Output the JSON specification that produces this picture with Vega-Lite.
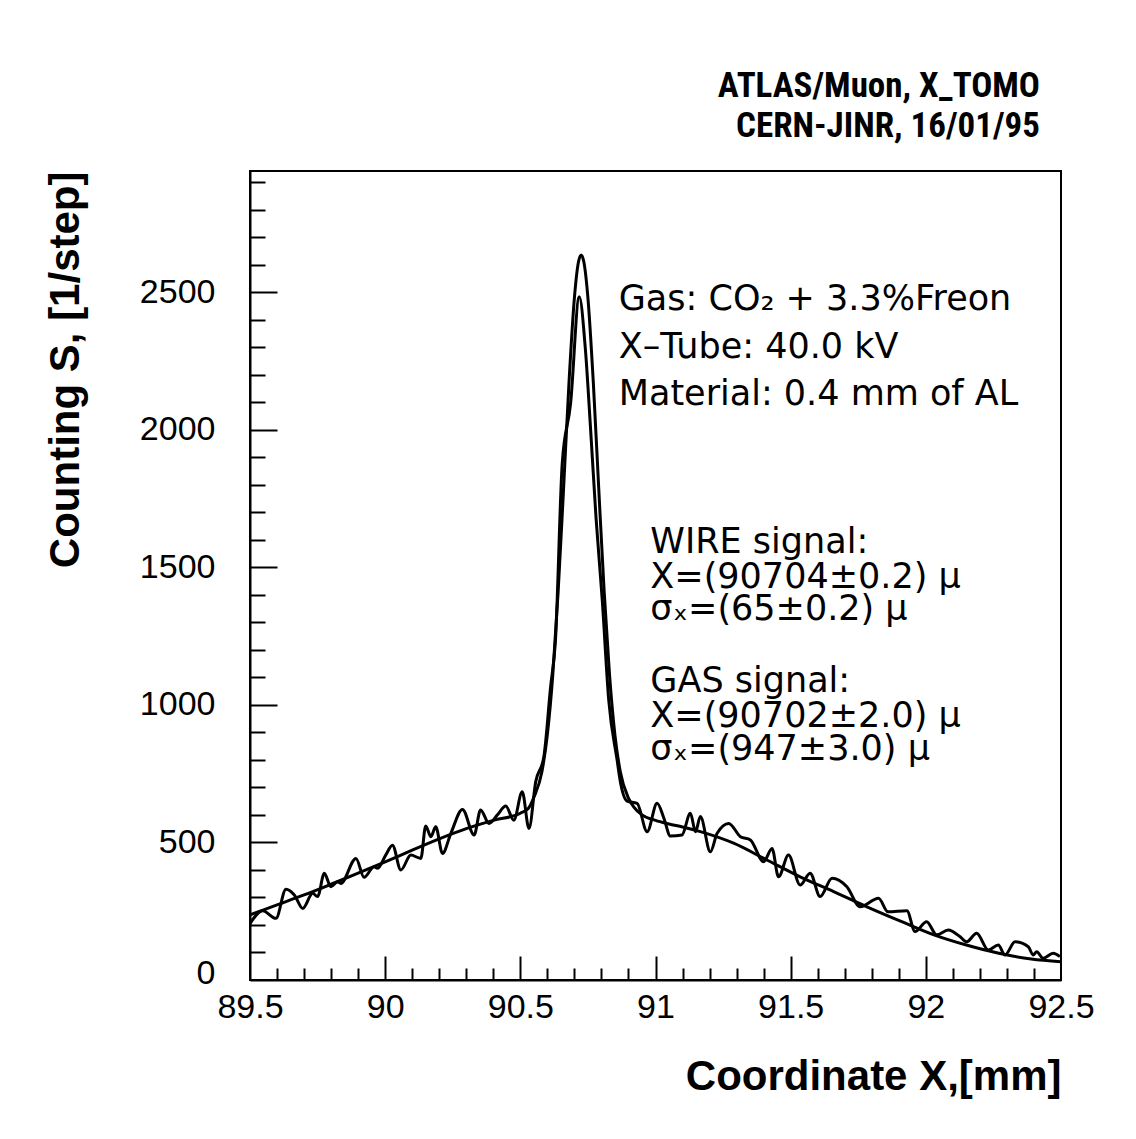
{
  "$schema": "https://vega.github.io/schema/vega-lite/v6.json",
  "width": 811,
  "height": 809,
  "autosize": {"type": "none"},
  "padding": {"left": 250, "top": 171, "right": 75, "bottom": 159},
  "background": "white",
  "title": {
    "text": ["ATLAS/Muon, X_TOMO", "CERN-JINR, 16/01/95"],
    "anchor": "end",
    "frame": "group",
    "font": "Roboto Condensed, Liberation Sans Narrow, Liberation Sans",
    "fontWeight": "bold",
    "fontSize": 35,
    "lineHeight": 40,
    "color": "black",
    "offset": 27,
    "dx": -21
  },
  "config": {
    "view": {"stroke": "black", "strokeWidth": 2},
    "axis": {
      "domainColor": "black",
      "domainWidth": 2,
      "tickColor": "black",
      "tickWidth": 2,
      "grid": false,
      "labelFont": "Liberation Sans",
      "labelFontSize": 34,
      "labelColor": "black",
      "labelOverlap": false,
      "titleFont": "Liberation Sans",
      "titleFontWeight": "bold",
      "titleFontSize": 42,
      "titleColor": "black"
    }
  },
  "resolve": {"axis": {"x": "independent", "y": "independent"}},
  "datasets": {
    "measured": [
      {"x": 89.5, "y": 205}, {"x": 89.547, "y": 252}, {"x": 89.596, "y": 224}, {"x": 89.633, "y": 330},
      {"x": 89.664, "y": 309}, {"x": 89.695, "y": 260}, {"x": 89.732, "y": 315}, {"x": 89.75, "y": 303},
      {"x": 89.775, "y": 388}, {"x": 89.799, "y": 339}, {"x": 89.824, "y": 357}, {"x": 89.836, "y": 351},
      {"x": 89.892, "y": 442}, {"x": 89.922, "y": 373}, {"x": 89.959, "y": 412}, {"x": 89.972, "y": 406},
      {"x": 90.002, "y": 454}, {"x": 90.027, "y": 490}, {"x": 90.058, "y": 400}, {"x": 90.095, "y": 454},
      {"x": 90.132, "y": 442}, {"x": 90.15, "y": 560}, {"x": 90.169, "y": 521}, {"x": 90.187, "y": 557},
      {"x": 90.212, "y": 460}, {"x": 90.243, "y": 533}, {"x": 90.286, "y": 620}, {"x": 90.329, "y": 527},
      {"x": 90.353, "y": 618}, {"x": 90.384, "y": 569}, {"x": 90.415, "y": 600}, {"x": 90.446, "y": 632},
      {"x": 90.476, "y": 581}, {"x": 90.507, "y": 684}, {"x": 90.532, "y": 551}, {"x": 90.557, "y": 721},
      {"x": 90.587, "y": 811}, {"x": 90.612, "y": 1066}, {"x": 90.63, "y": 1235}, {"x": 90.655, "y": 1878},
      {"x": 90.686, "y": 2096}, {"x": 90.718, "y": 2483}, {"x": 90.74, "y": 2300}, {"x": 90.76, "y": 2000},
      {"x": 90.78, "y": 1680}, {"x": 90.803, "y": 1381}, {"x": 90.827, "y": 1017}, {"x": 90.858, "y": 799},
      {"x": 90.871, "y": 715}, {"x": 90.895, "y": 650}, {"x": 90.932, "y": 642}, {"x": 90.969, "y": 539},
      {"x": 91.006, "y": 642}, {"x": 91.031, "y": 588}, {"x": 91.055, "y": 523}, {"x": 91.098, "y": 527},
      {"x": 91.129, "y": 606}, {"x": 91.148, "y": 539}, {"x": 91.166, "y": 594}, {"x": 91.203, "y": 466},
      {"x": 91.228, "y": 533}, {"x": 91.271, "y": 569}, {"x": 91.314, "y": 521}, {"x": 91.351, "y": 509},
      {"x": 91.4, "y": 430}, {"x": 91.431, "y": 478}, {"x": 91.455, "y": 375}, {"x": 91.492, "y": 454},
      {"x": 91.535, "y": 345}, {"x": 91.572, "y": 388}, {"x": 91.609, "y": 303}, {"x": 91.653, "y": 370},
      {"x": 91.708, "y": 339}, {"x": 91.757, "y": 266}, {"x": 91.825, "y": 297}, {"x": 91.86, "y": 248},
      {"x": 91.93, "y": 252}, {"x": 91.96, "y": 176}, {"x": 92.003, "y": 212}, {"x": 92.04, "y": 164},
      {"x": 92.083, "y": 182}, {"x": 92.127, "y": 157}, {"x": 92.151, "y": 139}, {"x": 92.188, "y": 170},
      {"x": 92.231, "y": 109}, {"x": 92.268, "y": 127}, {"x": 92.293, "y": 91}, {"x": 92.33, "y": 139},
      {"x": 92.379, "y": 121}, {"x": 92.397, "y": 91}, {"x": 92.41, "y": 103}, {"x": 92.434, "y": 79},
      {"x": 92.471, "y": 97}, {"x": 92.496, "y": 85}
    ],
    "fit": [
      {"x": 89.5, "y": 237}, {"x": 89.6, "y": 273}, {"x": 89.7, "y": 309}, {"x": 89.8, "y": 348},
      {"x": 89.9, "y": 388}, {"x": 90.0, "y": 429}, {"x": 90.1, "y": 472}, {"x": 90.2, "y": 513},
      {"x": 90.3, "y": 550}, {"x": 90.4, "y": 580}, {"x": 90.5, "y": 606}, {"x": 90.53, "y": 624},
      {"x": 90.55, "y": 664}, {"x": 90.58, "y": 758}, {"x": 90.6, "y": 892}, {"x": 90.62, "y": 1108},
      {"x": 90.64, "y": 1413}, {"x": 90.66, "y": 1787}, {"x": 90.68, "y": 2171}, {"x": 90.7, "y": 2479},
      {"x": 90.715, "y": 2609}, {"x": 90.725, "y": 2635}, {"x": 90.735, "y": 2609}, {"x": 90.75, "y": 2479},
      {"x": 90.77, "y": 2171}, {"x": 90.79, "y": 1787}, {"x": 90.81, "y": 1413}, {"x": 90.83, "y": 1108},
      {"x": 90.85, "y": 890}, {"x": 90.87, "y": 756}, {"x": 90.9, "y": 661}, {"x": 90.92, "y": 628},
      {"x": 90.95, "y": 600}, {"x": 91.0, "y": 580}, {"x": 91.05, "y": 567}, {"x": 91.1, "y": 556},
      {"x": 91.166, "y": 539}, {"x": 91.289, "y": 497}, {"x": 91.412, "y": 436}, {"x": 91.535, "y": 375},
      {"x": 91.659, "y": 321}, {"x": 91.782, "y": 266}, {"x": 91.911, "y": 212}, {"x": 92.03, "y": 164},
      {"x": 92.15, "y": 127}, {"x": 92.27, "y": 97}, {"x": 92.39, "y": 76}, {"x": 92.5, "y": 66}
    ],
    "notes": [
      {"x": 90.864, "y": 2435, "text": "Gas: CO₂ + 3.3%Freon"},
      {"x": 90.864, "y": 2260, "text": "X–Tube: 40.0 kV"},
      {"x": 90.864, "y": 2089, "text": "Material: 0.4 mm of AL"},
      {"x": 90.981, "y": 1552, "text": "WIRE signal:"},
      {"x": 90.981, "y": 1424, "text": "X=(90704±0.2) μ"},
      {"x": 90.981, "y": 1308, "text": "σₓ=(65±0.2) μ"},
      {"x": 90.981, "y": 1047, "text": "GAS signal:"},
      {"x": 90.981, "y": 919, "text": "X=(90702±2.0) μ"},
      {"x": 90.981, "y": 799, "text": "σₓ=(947±3.0) μ"}
    ]
  },
  "layer": [
    {
      "data": {"name": "measured"},
      "mark": {"type": "line", "interpolate": "monotone", "color": "black", "strokeWidth": 3, "clip": true},
      "encoding": {
        "x": {
          "field": "x", "type": "quantitative",
          "scale": {"domain": [89.5, 92.5], "nice": false, "zero": false},
          "axis": {
            "orient": "bottom",
            "values": [89.5, 90, 90.5, 91, 91.5, 92, 92.5],
            "ticks": false,
            "labelExpr": "format(datum.value, '.1~f')",
            "labelPadding": 10,
            "labelFlush": false,
            "title": "Coordinate X,[mm]",
            "titleAnchor": "end",
            "titlePadding": 32
          }
        },
        "y": {
          "field": "y", "type": "quantitative",
          "scale": {"domain": [0, 2940], "nice": false, "zero": true},
          "axis": {
            "orient": "left",
            "values": [0, 500, 1000, 1500, 2000, 2500],
            "ticks": false,
            "labelExpr": "format(datum.value, 'd')",
            "labelPadding": 35,
            "labelFlush": true,
            "labelFlushOffset": 10,
            "title": "Counting S, [1/step]",
            "titleAnchor": "end",
            "titlePadding": 52
          }
        }
      }
    },
    {
      "data": {"name": "fit"},
      "mark": {"type": "line", "interpolate": "monotone", "color": "black", "strokeWidth": 3, "clip": true},
      "encoding": {
        "x": {
          "field": "x", "type": "quantitative",
          "axis": {
            "orient": "bottom",
            "values": [89.6, 89.7, 89.8, 89.9, 90.1, 90.2, 90.3, 90.4, 90.6, 90.7, 90.8, 90.9, 91.1, 91.2, 91.3, 91.4, 91.6, 91.7, 91.8, 91.9, 92.1, 92.2, 92.3, 92.4],
            "tickSize": -12,
            "labels": false,
            "domain": false,
            "title": null
          }
        },
        "y": {
          "field": "y", "type": "quantitative",
          "axis": {
            "orient": "left",
            "values": [100, 200, 300, 400, 600, 700, 800, 900, 1100, 1200, 1300, 1400, 1600, 1700, 1800, 1900, 2100, 2200, 2300, 2400, 2600, 2700, 2800, 2900],
            "tickSize": -15,
            "labels": false,
            "domain": false,
            "title": null
          }
        }
      }
    },
    {
      "data": {"name": "notes"},
      "mark": {"type": "text", "align": "left", "baseline": "alphabetic", "font": "DejaVu Sans", "fontSize": 35, "color": "black"},
      "encoding": {
        "x": {
          "field": "x", "type": "quantitative",
          "axis": {
            "orient": "bottom",
            "values": [90, 90.5, 91, 91.5, 92],
            "tickSize": -24,
            "labels": false,
            "domain": false,
            "title": null
          }
        },
        "y": {
          "field": "y", "type": "quantitative",
          "axis": {
            "orient": "left",
            "values": [500, 1000, 1500, 2000, 2500],
            "tickSize": -27,
            "labels": false,
            "domain": false,
            "title": null
          }
        },
        "text": {"field": "text"}
      }
    }
  ]
}
